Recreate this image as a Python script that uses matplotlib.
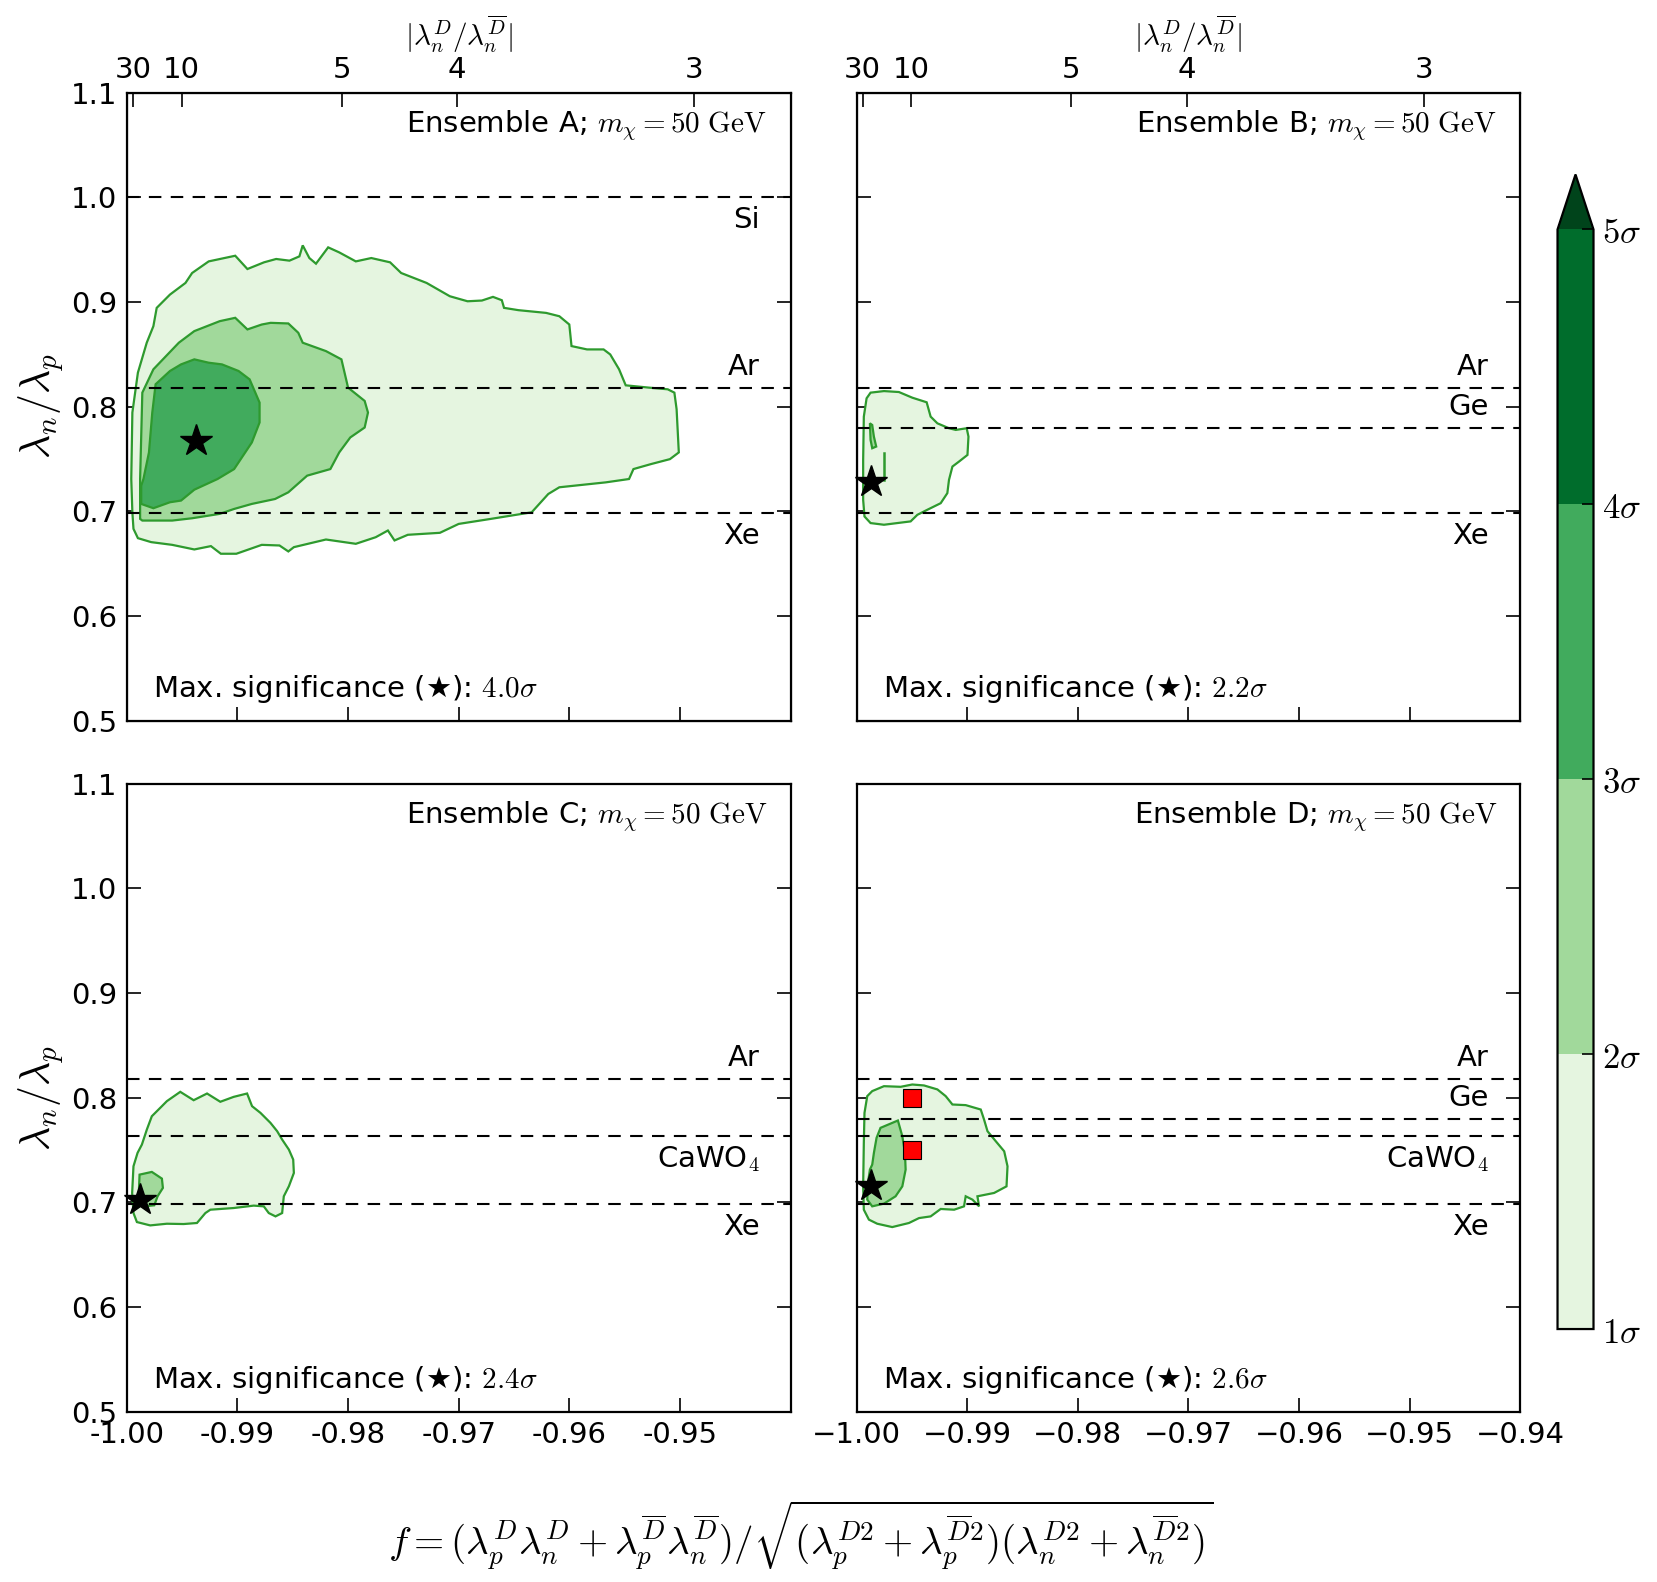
import numpy as np
import matplotlib
matplotlib.use("Agg")
import matplotlib.pyplot as plt
from matplotlib.colors import ListedColormap, BoundaryNorm
from matplotlib.cm import ScalarMappable

plt.rcParams["mathtext.fontset"] = "cm"
plt.rcParams["font.family"] = ["DejaVu Sans"]
plt.rcParams["font.size"] = 21

# ---- data -----------------------------------------------------------------
# significance regions, (f, lambda_n/lambda_p) vertices
A_1SIG = [(-0.9973, 0.8943), (-0.9961, 0.9070), (-0.9947, 0.9181), (-0.9941, 0.9276),
          (-0.9926, 0.9387), (-0.9902, 0.9441), (-0.9891, 0.9314), (-0.9876, 0.9378),
          (-0.9865, 0.9410), (-0.9853, 0.9394), (-0.9844, 0.9435), (-0.9841, 0.9540),
          (-0.9835, 0.9419), (-0.9829, 0.9365), (-0.9818, 0.9521), (-0.9808, 0.9473),
          (-0.9793, 0.9387), (-0.9779, 0.9419), (-0.9762, 0.9378), (-0.9752, 0.9276),
          (-0.9729, 0.9181), (-0.9708, 0.9054), (-0.9692, 0.9006), (-0.9679, 0.9013),
          (-0.9669, 0.9048), (-0.9661, 0.9016), (-0.9659, 0.8943), (-0.9646, 0.8921),
          (-0.9621, 0.8895), (-0.9609, 0.8863), (-0.9600, 0.8784), (-0.9598, 0.8578),
          (-0.9584, 0.8546), (-0.9569, 0.8546), (-0.9563, 0.8498), (-0.9555, 0.8356),
          (-0.9549, 0.8203), (-0.9528, 0.8181), (-0.9511, 0.8165), (-0.9505, 0.8133),
          (-0.9503, 0.7975), (-0.9501, 0.7562), (-0.9509, 0.7498), (-0.9526, 0.7451),
          (-0.9542, 0.7403), (-0.9546, 0.7308), (-0.9567, 0.7276), (-0.9609, 0.7229),
          (-0.9619, 0.7165), (-0.9634, 0.6990), (-0.9671, 0.6927), (-0.9700, 0.6879),
          (-0.9717, 0.6794), (-0.9746, 0.6775), (-0.9758, 0.6721), (-0.9764, 0.6816),
          (-0.9775, 0.6752), (-0.9793, 0.6689), (-0.9820, 0.6730), (-0.9849, 0.6657),
          (-0.9854, 0.6616), (-0.9862, 0.6673), (-0.9878, 0.6679), (-0.9901, 0.6594),
          (-0.9915, 0.6594), (-0.9924, 0.6667), (-0.9939, 0.6635), (-0.9959, 0.6679),
          (-0.9978, 0.6705), (-0.9990, 0.6743), (-0.9994, 0.6832), (-0.9995, 0.6990),
          (-0.9996, 0.7308), (-0.9995, 0.7943), (-0.9990, 0.8324), (-0.9982, 0.8610),
          (-0.9976, 0.8768)]
A_2SIG = [(-0.9988, 0.6927), (-0.9988, 0.7308), (-0.9986, 0.8133), (-0.9976, 0.8356),
          (-0.9953, 0.8610), (-0.9939, 0.8721), (-0.9916, 0.8816), (-0.9902, 0.8848),
          (-0.9891, 0.8737), (-0.9878, 0.8784), (-0.9870, 0.8800), (-0.9854, 0.8794),
          (-0.9845, 0.8705), (-0.9841, 0.8610), (-0.9820, 0.8530), (-0.9806, 0.8451),
          (-0.9800, 0.8181), (-0.9785, 0.8054), (-0.9782, 0.7943), (-0.9785, 0.7800),
          (-0.9798, 0.7705), (-0.9808, 0.7562), (-0.9816, 0.7403), (-0.9837, 0.7340),
          (-0.9854, 0.7181), (-0.9866, 0.7117), (-0.9887, 0.7070), (-0.9903, 0.7022),
          (-0.9916, 0.6975), (-0.9941, 0.6933), (-0.9959, 0.6911), (-0.9986, 0.6911)]
A_3SIG = [(-0.9987, 0.7244), (-0.9987, 0.7070), (-0.9976, 0.7029), (-0.9961, 0.7086),
          (-0.9951, 0.7102), (-0.9939, 0.7206), (-0.9918, 0.7308), (-0.9903, 0.7403),
          (-0.9887, 0.7657), (-0.9880, 0.7848), (-0.9880, 0.8038), (-0.9889, 0.8260),
          (-0.9899, 0.8340), (-0.9914, 0.8403), (-0.9926, 0.8419), (-0.9939, 0.8451),
          (-0.9951, 0.8403), (-0.9961, 0.8340), (-0.9974, 0.8213), (-0.9977, 0.7943),
          (-0.9980, 0.7562), (-0.9985, 0.7308)]

B_1SIG = [(-0.99873, 0.8133), (-0.99752, 0.8148), (-0.99617, 0.8139), (-0.99496, 0.8085),
          (-0.99366, 0.8041), (-0.99330, 0.7904), (-0.99269, 0.7840), (-0.99164, 0.7793),
          (-0.99103, 0.7777), (-0.99004, 0.7793), (-0.98988, 0.7713), (-0.98997, 0.7538),
          (-0.99073, 0.7475), (-0.99133, 0.7427), (-0.99164, 0.7300), (-0.99179, 0.7173),
          (-0.99239, 0.7077), (-0.99360, 0.7014), (-0.99450, 0.6966), (-0.99511, 0.6903),
          (-0.99632, 0.6887), (-0.99752, 0.6871), (-0.99873, 0.6887), (-0.99928, 0.6950),
          (-0.99940, 0.7109), (-0.99940, 0.7490), (-0.99934, 0.7904), (-0.99909, 0.8079)]
B_2SIG = [(-0.99879, 0.7840), (-0.99858, 0.7824), (-0.99843, 0.7713), (-0.99822, 0.7618),
          (-0.99858, 0.7602), (-0.99873, 0.7681)]
B_2SIG_SLIVER = [(-0.99752, 0.7554), (-0.99752, 0.7300)]

C_1SIG = [(-0.99517, 0.8055), (-0.99396, 0.7975), (-0.99275, 0.8039), (-0.99155, 0.7960),
          (-0.99034, 0.8007), (-0.98913, 0.8039), (-0.98868, 0.7918), (-0.98792, 0.7854),
          (-0.98702, 0.7759), (-0.98641, 0.7679), (-0.98596, 0.7599), (-0.98535, 0.7503),
          (-0.98496, 0.7408), (-0.98490, 0.7280), (-0.98535, 0.7153), (-0.98581, 0.7057),
          (-0.98596, 0.6897), (-0.98656, 0.6865), (-0.98717, 0.6897), (-0.98762, 0.6961),
          (-0.98853, 0.6968), (-0.99034, 0.6945), (-0.99245, 0.6929), (-0.99290, 0.6897),
          (-0.99366, 0.6802), (-0.99487, 0.6792), (-0.99638, 0.6795), (-0.99789, 0.6779),
          (-0.99909, 0.6811), (-0.99940, 0.6897), (-0.99952, 0.7089), (-0.99940, 0.7344),
          (-0.99903, 0.7472), (-0.99864, 0.7551), (-0.99819, 0.7695), (-0.99774, 0.7822),
          (-0.99683, 0.7918), (-0.99638, 0.7966)]
C_2SIG = [(-0.99885, 0.7264), (-0.99774, 0.7290), (-0.99683, 0.7226), (-0.99674, 0.7137),
          (-0.99722, 0.7057), (-0.99752, 0.6971), (-0.99849, 0.6961), (-0.99894, 0.7025)]

D_1SIG = [(-0.99858, 0.8062), (-0.99752, 0.8109), (-0.99601, 0.8103), (-0.99496, 0.8125),
          (-0.99390, 0.8116), (-0.99269, 0.8078), (-0.99194, 0.8014), (-0.99133, 0.7934),
          (-0.99013, 0.7928), (-0.98877, 0.7886), (-0.98847, 0.7790), (-0.98816, 0.7679),
          (-0.98741, 0.7583), (-0.98665, 0.7487), (-0.98635, 0.7344), (-0.98644, 0.7152),
          (-0.98756, 0.7089), (-0.98907, 0.7057), (-0.98892, 0.6961), (-0.98952, 0.7025),
          (-0.99013, 0.7057), (-0.99028, 0.6961), (-0.99118, 0.6929), (-0.99239, 0.6936),
          (-0.99330, 0.6865), (-0.99435, 0.6849), (-0.99526, 0.6802), (-0.99677, 0.6763),
          (-0.99813, 0.6795), (-0.99888, 0.6834), (-0.99934, 0.6929), (-0.99940, 0.7152),
          (-0.99934, 0.7567), (-0.99928, 0.7854), (-0.99903, 0.8014)]
D_2SIG = [(-0.99783, 0.7711), (-0.99626, 0.7781), (-0.99586, 0.7631), (-0.99562, 0.7471),
          (-0.99556, 0.7312), (-0.99586, 0.7152), (-0.99647, 0.7057), (-0.99752, 0.6987),
          (-0.99858, 0.6961), (-0.99903, 0.7025), (-0.99897, 0.7184), (-0.99879, 0.7312),
          (-0.99858, 0.7360), (-0.99843, 0.7471), (-0.99819, 0.7615)]
D_BENCHMARKS = [(-0.995, 0.80), (-0.995, 0.75)]

STARS = {"A": (-0.99378, 0.7673), "B": (-0.99873, 0.7284),
         "C": (-0.99885, 0.7025), "D": (-0.99867, 0.7152)}
MAX_SIG = {"A": 4.0, "B": 2.2, "C": 2.4, "D": 2.6}

# target lambda_n/lambda_p where each detector material is blind
TARGETS = {"Si": 1.0, "Ar": 0.818, "Ge": 0.780, "CaWO$_4$": 0.763, "Xe": 0.698}
PANEL_TARGETS = {"A": ["Si", "Ar", "Xe"], "B": ["Ar", "Ge", "Xe"],
                 "C": ["Ar", "CaWO$_4$", "Xe"], "D": ["Ar", "Ge", "CaWO$_4$", "Xe"]}

SIG_LEVELS = [1, 2, 3, 4, 5]
SIG_LABELS = [r"$1\sigma$", r"$2\sigma$", r"$3\sigma$", r"$4\sigma$", r"$5\sigma$"]
X_TICKS = [-1.00, -0.99, -0.98, -0.97, -0.96, -0.95, -0.94]
Y_TICKS = [0.5, 0.6, 0.7, 0.8, 0.9, 1.0, 1.1]
RATIO_TICKS = [30, 10, 5, 4, 3]

# ---- style -----------------------------------------------------------------
FILLS = ["#e5f5e0", "#a1d99b", "#41ab5d", "#006d2c"]
OVER = "#00441b"
EDGE = "#2e9a2e"
LABEL_OFFSET = {"Si": -0.022, "Ar": 0.02, "Ge": 0.02, "CaWO$_4$": -0.022, "Xe": -0.022}

REGIONS = {"A": [(0, A_1SIG), (1, A_2SIG), (2, A_3SIG)],
           "B": [(0, B_1SIG), (1, B_2SIG)],
           "C": [(0, C_1SIG), (1, C_2SIG)],
           "D": [(0, D_1SIG), (1, D_2SIG)]}

fig = plt.figure(figsize=(16.58, 15.82), dpi=100)
W, H = 0.4003, 0.3970
pos = {"A": (0.0765, 0.5445), "B": (0.5166, 0.5445),
       "C": (0.0765, 0.1077), "D": (0.5166, 0.1077)}

ratio_pos = [-r / np.sqrt(r ** 2 + 1) for r in RATIO_TICKS]

for name, (x0, y0) in pos.items():
    ax = fig.add_axes([x0, y0, W, H])
    left = name in ("A", "C")
    top_row = name in ("A", "B")

    for lvl, poly in REGIONS[name]:
        pts = np.array(poly)
        ax.fill(pts[:, 0], pts[:, 1], facecolor=FILLS[lvl], edgecolor=EDGE,
                linewidth=1.6, zorder=2)
    if name == "B":
        pts = np.array(B_2SIG_SLIVER)
        ax.plot(pts[:, 0], pts[:, 1], color=EDGE, lw=1.8, zorder=2)
    if name == "D":
        pts = np.array(D_BENCHMARKS)
        ax.plot(pts[:, 0], pts[:, 1], "s", color="red", mec="k", mew=0.8,
                ms=13, zorder=6)

    for t in PANEL_TARGETS[name]:
        v = TARGETS[t]
        ax.axhline(v, color="k", lw=1.5, dashes=(6, 4.5), zorder=3)
        ax.text(0.953, v + LABEL_OFFSET[t], t, transform=ax.get_yaxis_transform(),
                ha="right", va="center", fontsize=21)

    sx, sy = STARS[name]
    ax.plot(sx, sy, marker="*", color="k", ms=24, zorder=7, clip_on=False)

    ax.text(0.965, 0.948, "Ensemble %s; $m_\\chi = 50\\ \\mathrm{GeV}$" % name,
            transform=ax.transAxes, ha="right", va="center", fontsize=21)
    ax.text(0.04, 0.05, "Max. significance (\u2605): $%.1f\\sigma$" % MAX_SIG[name],
            transform=ax.transAxes, ha="left", va="center", fontsize=21)

    ax.set_xlim(-1.0, -0.94)
    ax.set_ylim(0.5, 1.1)
    ax.set_xticks(X_TICKS)
    if top_row:
        ax.set_xticklabels([])
    elif left:
        ax.set_xticklabels([f"{v:.2f}" for v in X_TICKS[:-1]] + [""])
    else:
        ax.set_xticklabels([f"{v:.2f}".replace("-", "\u2212") for v in X_TICKS])
    ax.set_yticks(Y_TICKS)
    if left:
        ax.set_yticklabels([f"{v:.1f}" for v in Y_TICKS])
        ax.set_ylabel(r"$\lambda_n/\lambda_p$", fontsize=30, labelpad=3)
    else:
        ax.set_yticklabels([])
    ax.tick_params(direction="in", length=10, width=1.2, right=True, top=False,
                   labelsize=21, pad=7)
    for sp in ax.spines.values():
        sp.set_linewidth(1.6)

    if top_row:
        tx = ax.twiny()
        tx.set_xlim(ax.get_xlim())
        tx.set_xticks(ratio_pos)
        tx.set_xticklabels([str(r) for r in RATIO_TICKS])
        tx.tick_params(direction="in", length=10, width=1.2, labelsize=21, pad=6)
        tx.set_xlabel(r"$|\lambda_n^D/\lambda_n^{\overline{D}}|$", fontsize=21,
                      labelpad=8)

fig.text(0.483, 0.029,
         r"$f = (\lambda_p^D\lambda_n^D + \lambda_p^{\overline{D}}\lambda_n^{\overline{D}})"
         r"/\sqrt{(\lambda_p^{D2} + \lambda_p^{\overline{D}2})"
         r"(\lambda_n^{D2} + \lambda_n^{\overline{D}2})}$",
         ha="center", va="center", fontsize=28)

cmap = ListedColormap(FILLS)
cmap.set_over(OVER)
norm = BoundaryNorm(SIG_LEVELS, cmap.N)
cax = fig.add_axes([0.9394, 0.1599, 0.0217, 0.7298])
cb = fig.colorbar(ScalarMappable(norm=norm, cmap=cmap), cax=cax, extend="max",
                  extendfrac=0.05, ticks=SIG_LEVELS)
cb.set_ticklabels(SIG_LABELS)
cax.tick_params(direction="in", length=9, width=1.2, labelsize=25, pad=6)
cb.outline.set_linewidth(1.6)

fig.savefig("out.png", dpi=100)
